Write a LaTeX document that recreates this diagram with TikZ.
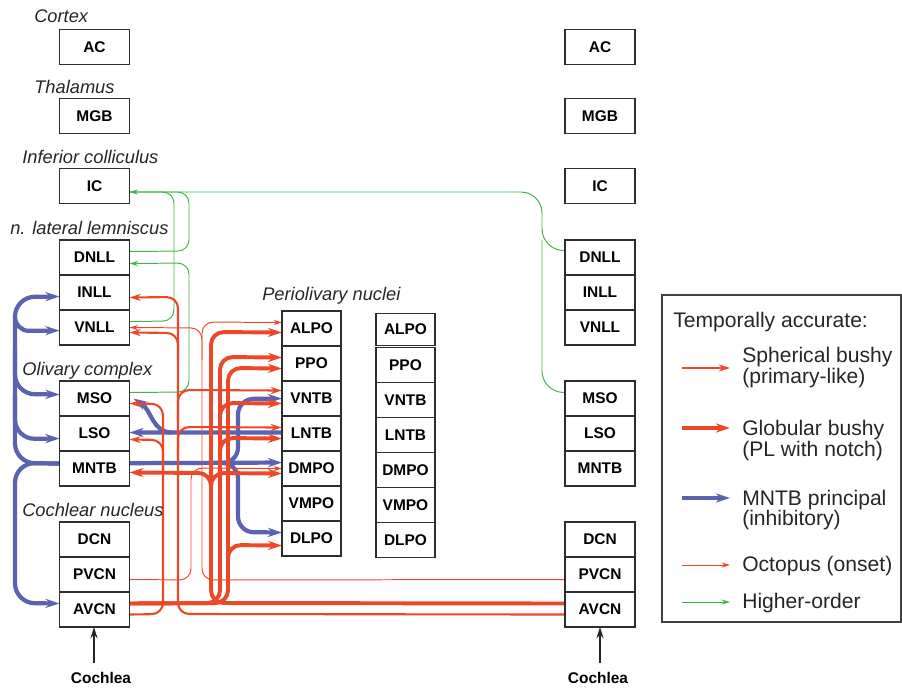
\documentclass[tikz,border=0pt]{standalone}
\usepackage{fontspec}
\setmainfont{Liberation Sans}
\usetikzlibrary{positioning, arrows.meta, backgrounds, calc}
\definecolor{axonred}{RGB}{236, 72, 40}
\definecolor{mntbblue}{RGB}{92, 97, 176}
\definecolor{higreen}{RGB}{66, 181, 74}
\definecolor{boxdraw}{RGB}{45, 45, 45}

\begin{document}
\begin{tikzpicture}[
    x=0.025cm, y=-0.025cm,
    % nucleus boxes
    nucleus/.style={draw=boxdraw, fill=white, line width=0.8pt, minimum width=1.75cm, minimum height=0.875cm, inner sep=0pt, outer sep=0pt, font=\fontsize{11}{13}\selectfont\bfseries},
    periobox/.style={nucleus, minimum width=1.475cm},
    region/.style={anchor=base west, inner sep=0pt, font=\fontsize{13}{15}\selectfont\itshape, text=black!85},
    legtext/.style={anchor=base west, inner sep=0pt, font=\fontsize{15}{17}\selectfont, text=black!85},
    % axon classes
    octo/.style={draw=axonred, line width=0.7pt, rounded corners=8pt, -{Stealth[length=6pt, width=3.6pt]}},
    sph/.style={draw=axonred, line width=1.5pt, rounded corners=8pt, -{Stealth[length=8pt, width=5pt]}},
    glob/.style={draw=axonred, line width=2.8pt, rounded corners=9pt, -{Stealth[length=10pt, width=6.5pt]}},
    inhib/.style={draw=mntbblue, line width=3pt, rounded corners=11pt, -{Stealth[length=10pt, width=6.5pt]}},
    higher/.style={draw=higreen, line width=0.7pt, rounded corners=8pt, -{Stealth[length=6pt, width=3.6pt]}},
    input/.style={draw=black!85, line width=1.4pt, -{Stealth[length=8pt, width=5pt]}}
]
\useasboundingbox (0,0) rectangle (902,688);

% lanes of the fibre bundles (x in px)
\def\xSi{163}  % spherical, ipsilateral
\def\xSc{178}  % spherical, contralateral
\def\xOi{191}  % octopus, ipsilateral
\def\xOc{202}  % octopus, contralateral
\def\xGc{211}  % globular, contralateral
\def\xGa{220}  % globular, ipsilateral
\def\xGb{228}
\def\xBl{238}  % MNTB to periolivary
\def\xHo{542}  % higher-order, right side

% ---------- left column ----------
\node[nucleus] (AC)  at (94.5, 47) {AC};
\node[nucleus] (MGB) at (94.5, 116) {MGB};
\node[nucleus] (IC)  at (94.5, 186) {IC};
\node[nucleus] (DNLL) at (94.5, 257.5) {DNLL};
\node[nucleus, below=0pt of DNLL] (INLL) {INLL};
\node[nucleus, below=0pt of INLL] (VNLL) {VNLL};
\node[nucleus] (MSO) at (94.5, 398.5) {MSO};
\node[nucleus, below=0pt of MSO] (LSO) {LSO};
\node[nucleus, below=0pt of LSO] (MNTB) {MNTB};
\node[nucleus] (DCN) at (94.5, 539.5) {DCN};
\node[nucleus, below=0pt of DCN] (PVCN) {PVCN};
\node[nucleus, below=0pt of PVCN] (AVCN) {AVCN};

% ---------- right column ----------
\node[nucleus] (rAC)  at (600, 47) {AC};
\node[nucleus] (rMGB) at (600, 116) {MGB};
\node[nucleus] (rIC)  at (600, 186) {IC};
\node[nucleus] (rDNLL) at (600, 257.5) {DNLL};
\node[nucleus, below=0pt of rDNLL] (rINLL) {INLL};
\node[nucleus, below=0pt of rINLL] (rVNLL) {VNLL};
\node[nucleus] (rMSO) at (600, 398.5) {MSO};
\node[nucleus, below=0pt of rMSO] (rLSO) {LSO};
\node[nucleus, below=0pt of rLSO] (rMNTB) {MNTB};
\node[nucleus] (rDCN) at (600, 539.5) {DCN};
\node[nucleus, below=0pt of rDCN] (rPVCN) {PVCN};
\node[nucleus, below=0pt of rPVCN] (rAVCN) {AVCN};

% ---------- periolivary nuclei ----------
\node[periobox] (ALPO) at (311.5, 328.5) {ALPO};
\node[periobox, below=0pt of ALPO] (PPO) {PPO};
\node[periobox, below=0pt of PPO] (VNTB) {VNTB};
\node[periobox, below=0pt of VNTB] (LNTB) {LNTB};
\node[periobox, below=0pt of LNTB] (DMPO) {DMPO};
\node[periobox, below=0pt of DMPO] (VMPO) {VMPO};
\node[periobox, below=0pt of VMPO] (DLPO) {DLPO};

\node[periobox, minimum height=0.8cm] (rALPO) at (405.5, 329.5) {ALPO};
\node[periobox, below=1.2pt of rALPO] (rPPO) {PPO};
\node[periobox, below=0pt of rPPO] (rVNTB) {VNTB};
\node[periobox, below=0pt of rVNTB] (rLNTB) {LNTB};
\node[periobox, below=0pt of rLNTB] (rDMPO) {DMPO};
\node[periobox, below=0pt of rDMPO] (rVMPO) {VMPO};
\node[periobox, below=0pt of rVMPO] (rDLPO) {DLPO};

% ---------- region labels ----------
\node[region] (lbCortex) at (34, 23) {Cortex};
\node[region] (lbThal)   at (34, 94) {Thalamus};
\node[region] (lbIC)     at (22, 164) {Inferior colliculus};
\node[region] (lbLL)     at (10, 235) {n. lateral lemniscus};
\node[region] (lbSOC)    at (22, 376) {Olivary complex};
\node[region] (lbCN)     at (22, 517) {Cochlear nucleus};
\node[region] (lbPO)     at (262, 301) {Periolivary nuclei};

% ---------- cochlear input ----------
\node[anchor=base, font=\fontsize{11}{13}\selectfont\bfseries] (cochL) at (101, 683) {Cochlea};
\node[anchor=base, font=\fontsize{11}{13}\selectfont\bfseries] (cochR) at (598, 683) {Cochlea};
\coordinate (earL) at (94, 663);
\coordinate (earR) at (600, 663);
\draw[input] (earL) -- (earL |- AVCN.south);
\draw[input] (earR) -- (rAVCN.south);

% ---------- pathways (behind the boxes) ----------
\begin{scope}[on background layer]
% higher-order
\draw[higher, rounded corners=15pt] ($(rDNLL.west)+(0,-7)$) -- (\xHo,250) -- (\xHo,192) -- ($(IC.east)+(0,6)$);
\draw[higher, -, rounded corners=15pt] ($(rMSO.west)+(0,-6)$) -- (\xHo,392) -- (\xHo,240);
\draw[higher, -] ($(VNLL.east)+(0,-6)$) -- (174,321) -- (174,192) -- ($(IC.east)+(0,6)$);
\draw[higher, -] ($(DNLL.east)+(0,-6)$) -- (189,251) -- (189,192) -- ($(IC.east)+(0,6)$);
\draw[higher] ($(MSO.east)+(0,-6)$) -- (189,392) -- (189,263) -- ($(DNLL.east)+(0,6)$);

% MNTB principal cells
\draw[inhib, rounded corners=14pt] ($(MNTB.west)+(0,-5)$) -- (15,463) -- (15,297) -- ($(INLL.west)+(0,4)$);
\draw[inhib, rounded corners=14pt] ($(MNTB.west)+(0,-5)$) -- (15,463) -- (15,603) -- ($(AVCN.west)+(0,-6)$);
\draw[inhib, rounded corners=10pt] (15,316) -- (15,331) -- ($(VNLL.west)+(0,3)$);
\draw[inhib, rounded corners=14pt] (15,350) -- (15,394) -- ($(MSO.west)+(0,-4)$);
\draw[inhib, rounded corners=14pt] (15,395) -- (15,439) -- ($(LSO.west)+(0,5)$);
\draw[inhib] ($(MNTB.west)+(0,-5)$) -- ($(DMPO.west)+(0,-6)$);
\draw[inhib] (225,463) -- (\xBl,463) -- (\xBl,399) -- (VNTB.west);
\draw[inhib] (225,463) -- (\xBl,463) -- (\xBl,532) -- ($(DLPO.west)+(0,-6)$);
\draw[inhib] ($(LNTB.west)+(0,-1)$) -- ($(LSO.east)+(0,-1)$);
\draw[inhib] (172,432.5) .. controls (152,432.5) and (152,410) .. ($(MSO.east)+(4,0)$);

% octopus (onset)
\draw[octo] ($(PVCN.east)+(0,5)$) -- (\xOi,580) -- (\xOi,468) -- (DMPO.west);
\draw[octo] ($(rPVCN.west)+(0,5)$) -- (\xOc,580) -- (\xOc,328) -- (VNLL.east);
\draw[octo] (\xOc,360) -- (\xOc,322) -- ($(ALPO.west)+(0,-6)$);

% spherical bushy
\draw[sph] ($(AVCN.east)+(0,5)$) -- (\xSi,614) -- (\xSi,440) -- ($(LSO.east)+(0,6)$);
\draw[sph] (\xSi,470) -- (\xSi,404) -- ($(MSO.east)+(0,5)$);
\draw[sph] ($(rAVCN.west)+(0,5)$) -- (\xSc,614) -- (\xSc,297) -- ($(INLL.east)+(0,5)$);
\draw[sph] (\xSc,360) -- (\xSc,333) -- ($(VNLL.east)+(0,5)$);
\draw[sph] (\xSc,420) -- (\xSc,390) -- ($(VNTB.west)+(0,-8)$);
\draw[sph] (\xSc,455) -- (\xSc,427) -- ($(LNTB.west)+(0,-6)$);

% globular bushy
\draw[glob] ($(rAVCN.west)+(0,-6)$) -- (\xGc,603) -- (\xGc,473) -- ($(MNTB.east)+(0,4)$);
\draw[glob] (\xGc,520) -- (\xGc,473) -- ($(DMPO.west)+(0,5)$);
\draw[glob] (\xGc,520) -- (\xGc,332) -- ($(ALPO.west)+(0,4)$);
\draw[glob] ($(AVCN.east)+(0,-6)$) -- (\xGa,603) -- (\xGa,357) -- ($(PPO.west)+(0,-6)$);
\draw[glob] (\xGa,440) -- (\xGa,403) -- ($(VNTB.west)+(0,5)$);
\draw[glob] (\xGa,470) -- (\xGa,438) -- ($(LNTB.west)+(0,5)$);
\draw[glob] ($(AVCN.east)+(0,-6)$) -- (\xGb,603) -- (\xGb,368) -- ($(PPO.west)+(0,5)$);
\draw[glob] (\xGb,580) -- (\xGb,545) -- ($(DLPO.west)+(0,7)$);
\end{scope}

% ---------- legend ----------
\node[draw=black!75, line width=0.8pt, minimum width=5.975cm, minimum height=8.175cm, inner sep=0pt] (legend) at (781.5, 458.5) {};
\node[legtext] (lgHead) at (673, 327.5) {Temporally accurate:};
\node[legtext] (lgSph)  at (742, 363) {Spherical bushy};
\node[legtext]          at (742, 384) {(primary-like)};
\node[legtext] (lgGlob) at (742, 436) {Globular bushy};
\node[legtext]          at (742, 457) {(PL with notch)};
\node[legtext] (lgMntb) at (742, 505) {MNTB principal};
\node[legtext]          at (742, 526) {(inhibitory)};
\node[legtext] (lgOcto) at (742, 571) {Octopus (onset)};
\node[legtext] (lgHigh) at (742, 608) {Higher-order};
\draw[sph]    (682, 368) -- (730, 368);
\draw[glob]   (682, 428) -- (730, 428);
\draw[inhib]  (682, 498) -- (730, 498);
\draw[octo]   (682, 565) -- (730, 565);
\draw[higher] (682, 602) -- (730, 602);

\end{tikzpicture}
\end{document}
